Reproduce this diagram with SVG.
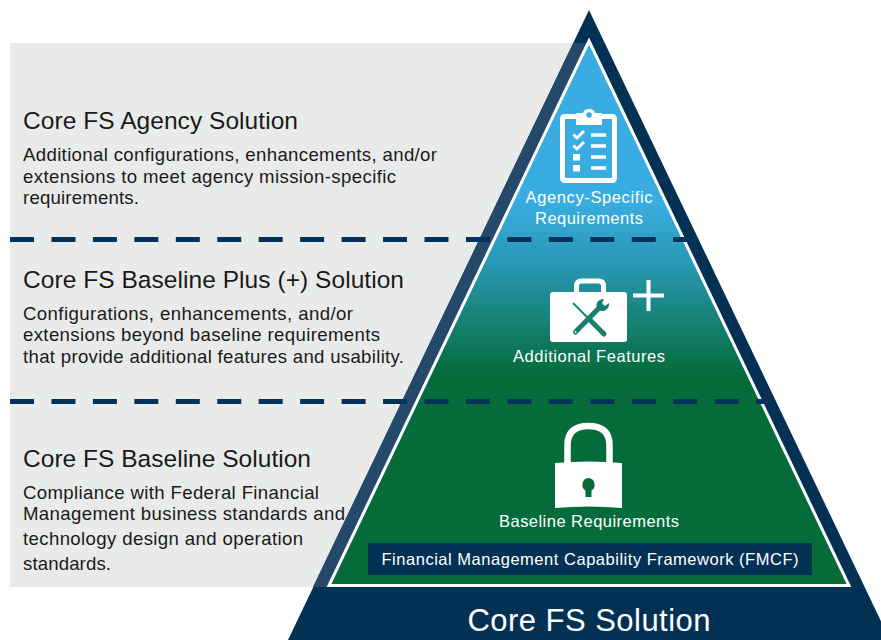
<svg xmlns="http://www.w3.org/2000/svg" width="881" height="640" viewBox="0 0 881 640">
<style>
text{font-family:"Liberation Sans",Arial,sans-serif}
.h{font-size:24.500px;fill:#1a1a1a}
.b{font-size:18.600px;fill:#1a1a1a}
.w{font-size:16.500px;fill:#fff;text-anchor:middle}
.d{stroke:#05325a;stroke-width:5;stroke-dasharray:24 17.45;fill:none}
.wl{stroke:#fff;fill:none}
</style>
<defs>
<linearGradient id="g" gradientUnits="userSpaceOnUse" x1="0" y1="38" x2="0" y2="587">
<stop offset="0" stop-color="#39ade1"/>
<stop offset="0.3" stop-color="#39ade1"/>
<stop offset="0.41" stop-color="#2898b4"/>
<stop offset="0.615" stop-color="#056b3a"/>
<stop offset="1" stop-color="#056b3a"/>
</linearGradient>
</defs>
<rect id="panel" x="10" y="43" width="570" height="544" fill="#e9ebea"/>
<g id="pyramid">
<polygon points="589,10 890,640 288,640" fill="#033153"/>
<polygon points="573.2,43 589,43 589,587 313,587" fill="#24496a"/>
<polygon points="589,41 849,585.500 329,585.500" fill="url(#g)" stroke="#fff" stroke-width="3"/>
</g>
<g id="agency-text">
<text class="h" x="23" y="129" textLength="275">Core FS Agency Solution</text>
<text class="b" x="23" y="161" textLength="414">Additional configurations, enhancements, and/or</text>
<text class="b" x="23" y="183" textLength="373">extensions to meet agency mission-specific</text>
<text class="b" x="23" y="204" textLength="116">requirements.</text>
</g>
<g id="plus-text">
<text class="h" x="23" y="288" textLength="381">Core FS Baseline Plus (+) Solution</text>
<text class="b" x="23" y="320" textLength="330">Configurations, enhancements, and/or</text>
<text class="b" x="23" y="341" textLength="357">extensions beyond baseline requirements</text>
<text class="b" x="23" y="363" textLength="381">that provide additional features and usability.</text>
</g>
<g id="baseline-text">
<text class="h" x="23" y="467" textLength="288">Core FS Baseline Solution</text>
<text class="b" x="23" y="499" textLength="296">Compliance with Federal Financial</text>
<text class="b" x="23" y="520" textLength="322">Management business standards and</text>
<text class="b" x="23" y="545" textLength="280">technology design and operation</text>
<text class="b" x="23" y="570" textLength="88">standards.</text>
</g>
<g id="agency-node">
<rect x="562.500" y="116.500" width="52" height="64" rx="2" fill="none" stroke="#fff" stroke-width="5"/>
<path d="M576 125V113h7q1-4 6-4t6 4h7v12z" fill="#fff"/>
<circle cx="589" cy="115" r="2.800" fill="#39ade1"/>
<path d="M573.500 134.500l3.500 3.500 7-7M573.500 145.500l3.500 3.500 7-7" class="wl" stroke-width="3"/>
<rect x="573" y="154" width="7" height="6.500" fill="#fff"/>
<rect x="573" y="165" width="7" height="6.500" fill="#fff"/>
<path d="M591 135h15M591 146h15M591 157h15M591 168h15" class="wl" stroke-width="3.500"/>
<text class="w" x="589" y="203" textLength="127">Agency-Specific</text>
<text class="w" x="589" y="224" textLength="108">Requirements</text>
</g>
<g id="features-node">
<path d="M576.500 293v-7q0-5 5-5h17q5 0 5 5v7" class="wl" stroke-width="5"/>
<rect x="550" y="292" width="77" height="50" rx="3" fill="#fff"/>
<path d="M573 303L592 322" stroke="#15806f" stroke-width="1.800" fill="none"/>
<path d="M590 320L604 334" stroke="#15806f" stroke-width="5" stroke-linecap="round" fill="none"/>
<path d="M575.500 332L600 307" stroke="#15806f" stroke-width="5" stroke-linecap="round" fill="none"/>
<path d="M604 299a6.500 6.500 0 0 0-7 9l4 3a7 7 0 0 0 8-8l-4 3-3-3z" fill="#15806f"/>
<circle cx="575.500" cy="332" r="1" fill="#fff"/>
<path d="M633 295.500h31M648.500 280v31" class="wl" stroke-width="4"/>
<text class="w" x="589" y="362" textLength="152">Additional Features</text>
</g>
<g id="baseline-node">
<path d="M567.500 465v-20q0-19 21-19t21 19v20" class="wl" stroke-width="6.500"/>
<path d="M555 463q34-3 67 0v45q-33-3-67 0z" fill="#fff"/>
<path d="M588.500 478a6.800 6.800 0 0 1 3 12.500v6.500h-6v-6.500a6.800 6.800 0 0 1 3-12.500z" fill="#056b3a"/>
<text class="w" x="589" y="527" textLength="180">Baseline Requirements</text>
</g>
<g id="fmcf">
<rect x="368" y="543" width="444" height="32" fill="#033153"/>
<text class="w" x="590" y="565" textLength="417">Financial Management Capability Framework (FMCF)</text>
</g>
<g id="connectors">
<path class="d" d="M10 239.500H690"/>
<path class="d" d="M10 401.500H768"/>
</g>
<text id="title" x="589" y="631" font-size="31" fill="#fff" text-anchor="middle" textLength="243">Core FS Solution</text>
</svg>
